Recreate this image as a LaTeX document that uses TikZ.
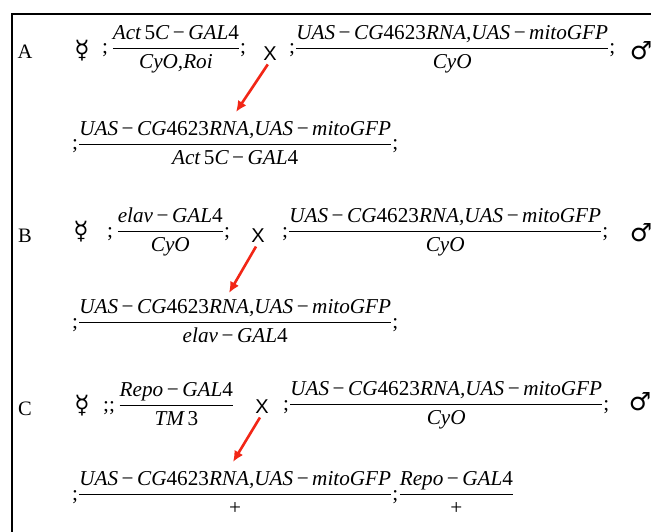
\documentclass[tikz,border=0pt]{standalone}
\usepackage{amsmath}
\usepackage{fontspec}
\setmainfont{Liberation Serif}
\newfontfamily\symfont{DejaVu Sans}
\newfontfamily\crossfont{Liberation Sans}
\usetikzlibrary{arrows.meta}

\definecolor{crossred}{RGB}{242,38,22}

% one genotype: what sits on the upper and on the lower chromosome
\newcommand{\geno}[2]{$\displaystyle\genfrac{}{}{1.2pt}{0}{\mbox{\itshape #1}}{\mbox{\itshape #2}}$}
\newcommand{\mn}{\,\textup{−}\,}
\newcommand{\uasline}{UAS\mn CG\textup{4623}RNA,UAS\mn mitoGFP}
\newcommand{\actline}{Act\,\textup{5}C\mn GAL\textup{4}}

\tikzset{
  geno/.style={anchor=base west, inner sep=0pt, font=\fontsize{21.2}{25}\selectfont},
  panel/.style={anchor=base, inner sep=0pt, font=\fontsize{20.5}{24}\selectfont},
  sex/.style={inner sep=0pt, font=\symfont\fontsize{25}{28}\selectfont},
  cross/.style={inner sep=0pt, font=\crossfont\fontsize{20}{24}\selectfont},
  progeny/.style={draw=crossred, line width=2.6pt, -{Latex[length=11pt,width=10pt]},
    shorten <=4pt},
}

\begin{document}
\begin{tikzpicture}[x=1pt, y=-1pt]
  \useasboundingbox (0,0) rectangle (651,532);
  \clip (0,0) rectangle (651,532);
  % frame
  \draw[line width=2pt] (11.5,560) |- (680,14);

  % A: Act5C driver
  \node[panel] (lA) at (25,59) {A};
  \node[sex] (fA) at (82,51) {☿};
  \node[geno] (pA) at (102,54) {;\,\geno{\actline}{CyO,Roi};};
  \node[cross] (xA) at (270,54) {X};
  \node[geno] (qA) at (289,54) {;\geno{\uasline}{CyO};};
  \node[sex] (mA) at (641,51) {♂};
  \node[geno] (oA) at (72,150) {;\geno{\uasline}{\actline};};
  \coordinate (tA) at (236,112);
  \draw[progeny] (xA.south) -- (tA);

  % B: elav driver
  \node[panel] (lB) at (25,242) {B};
  \node[sex] (fB) at (81,232) {☿};
  \node[geno] (pB) at (107,237) {;\,\geno{elav\mn GAL\textup{4}}{CyO};};
  \node[cross] (xB) at (258,236) {X};
  \node[geno] (qB) at (282,237) {;\geno{\uasline}{CyO};};
  \node[sex] (mB) at (641,233) {♂};
  \node[geno] (oB) at (72,328) {;\geno{\uasline}{elav\mn GAL\textup{4}};};
  \coordinate (tB) at (229,293);
  \draw[progeny] (xB.south) -- (tB);

  % C: Repo driver
  \node[panel] (lC) at (25,415) {C};
  \node[sex] (fC) at (82,406) {☿};
  \node[geno] (pC) at (103,411) {;;\,\geno{Repo\mn GAL\textup{4}}{TM\,\textup{3}}};
  \node[cross] (xC) at (262,407) {X};
  \node[geno] (qC) at (283,410) {;\geno{\uasline}{CyO};};
  \node[sex] (mC) at (640,402) {♂};
  \node[geno] (oC) at (72,500) {;\geno{\uasline}{\textup{+}};};
  \node[geno] (oC2) at (oC.base east) {\geno{Repo\mn GAL\textup{4}}{\textup{+}}};
  \coordinate (tC) at (233,462);
  \draw[progeny] (xC.south) -- (tC);
\end{tikzpicture}
\end{document}
